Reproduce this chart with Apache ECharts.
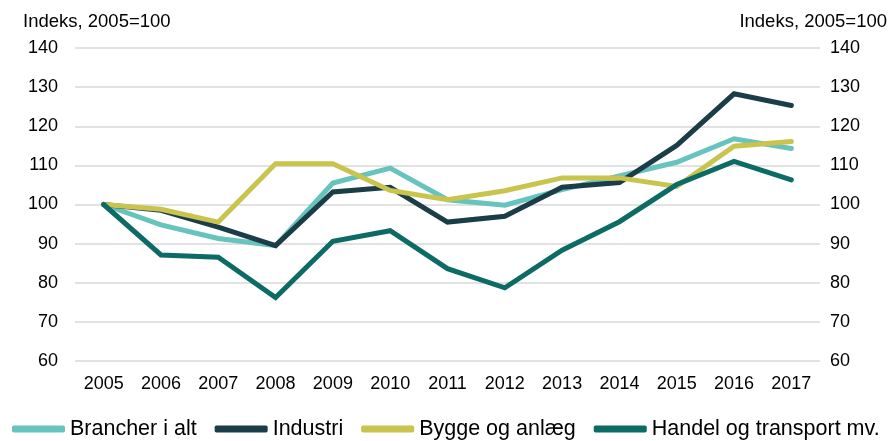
<!DOCTYPE html>
<html>
<head>
<meta charset="utf-8">
<script src="https://cdn.jsdelivr.net/npm/echarts@6/dist/echarts.min.js"></script>
<style>
  html, body { margin: 0; padding: 0; background: #fff; }
  #chart { width: 893px; height: 441px; }
</style>
</head>
<body>
<div id="chart"></div>
<script>
const years = ['2005','2006','2007','2008','2009','2010','2011','2012','2013','2014','2015','2016','2017'];
const brancherIAlt = [100, 94.8, 91.3, 89.5, 105.5, 109.3, 101.2, 99.8, 103.8, 107.3, 110.8, 116.8, 114.3];
const industri = [100, 98.5, 94.2, 89.5, 103.2, 104.4, 95.5, 97.0, 104.4, 105.6, 115.1, 128.3, 125.3];
const byggeOgAnlaeg = [100, 98.8, 95.5, 110.4, 110.4, 103.6, 101.2, 103.5, 106.8, 106.8, 104.6, 114.9, 116.1];
const handelOgTransport = [100, 87.1, 86.5, 76.2, 90.6, 93.3, 83.6, 78.7, 88.3, 95.6, 105.1, 111.0, 106.3];
const yTicks = { min: 60, max: 140, step: 10 };
const unitLabel = 'Indeks, 2005=100';

const font = 'Arial, "Liberation Sans", Helvetica, sans-serif';

function lineSeries(name, data, color, yAxisIndex) {
  return {
    name, type: 'line', data, yAxisIndex,
    symbol: 'none', smooth: false,
    lineStyle: { color, width: 5, cap: 'round', join: 'miter' },
    itemStyle: { color },
    emphasis: { disabled: true }
  };
}

const chart = echarts.init(document.getElementById('chart'), null, { renderer: 'canvas' });
chart.setOption({
  animation: false,
  backgroundColor: '#ffffff',
  textStyle: { fontFamily: font, color: '#000' },
  title: [
    { text: unitLabel, left: 18, top: 7, textStyle: { fontFamily: font, fontSize: 18.5, fontWeight: 'normal', color: '#000' } },
    { text: unitLabel, right: 1, top: 7, textStyle: { fontFamily: font, fontSize: 18.5, fontWeight: 'normal', color: '#000' } }
  ],
  grid: { left: 75, right: 73, top: 48, bottom: 80, containLabel: false },
  legend: {
    left: 12, top: 418, padding: 0,
    itemWidth: 53, itemHeight: 7, itemGap: 18,
    icon: 'roundRect',
    textStyle: { fontFamily: font, fontSize: 21.5, color: '#000' },
    data: ['Brancher i alt', 'Industri', 'Bygge og anlæg', 'Handel og transport mv.']
  },
  xAxis: {
    type: 'category', data: years, boundaryGap: true,
    axisLine: { show: false }, axisTick: { show: false },
    axisLabel: { fontFamily: font, fontSize: 18, color: '#000', margin: 14 }
  },
  yAxis: [
    {
      type: 'value', min: yTicks.min, max: yTicks.max, interval: yTicks.step, position: 'left',
      axisLine: { show: false }, axisTick: { show: false },
      axisLabel: { fontFamily: font, fontSize: 18, color: '#000', margin: 17 },
      splitLine: { lineStyle: { color: '#D9D9D9', width: 1.5 } }
    },
    {
      type: 'value', min: yTicks.min, max: yTicks.max, interval: yTicks.step, position: 'right',
      axisLine: { show: false }, axisTick: { show: false },
      axisLabel: { fontFamily: font, fontSize: 18, color: '#000', margin: 10 },
      splitLine: { show: false }
    }
  ],
  series: [
    lineSeries('Brancher i alt', brancherIAlt, '#66C3BE', 0),
    lineSeries('Industri', industri, '#1B3D48', 0),
    lineSeries('Bygge og anlæg', byggeOgAnlaeg, '#C8C44E', 0),
    lineSeries('Handel og transport mv.', handelOgTransport, '#0D6B66', 0)
  ]
});
</script>
</body>
</html>
